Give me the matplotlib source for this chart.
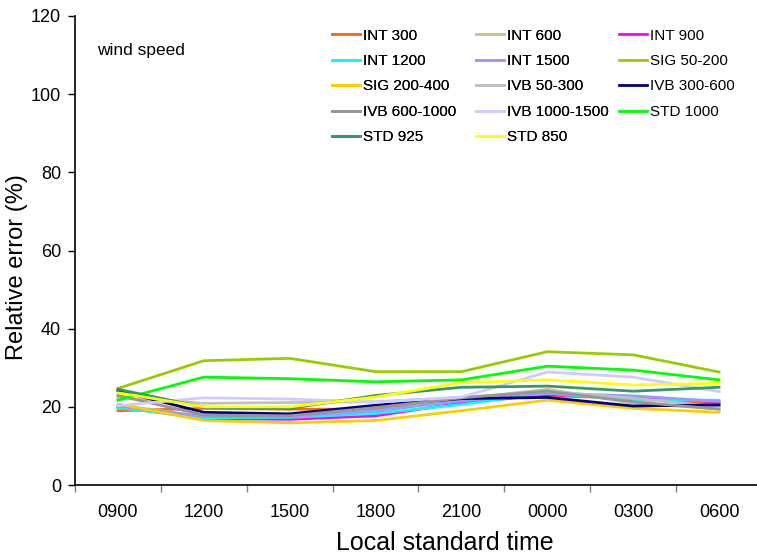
import matplotlib
matplotlib.use("Agg")
import matplotlib.pyplot as plt

plt.rcParams['font.family'] = ['Liberation Sans', 'DejaVu Sans']

times = ["0900", "1200", "1500", "1800", "2100", "0000", "0300", "0600"]

series_names = ["INT 300", "INT 600", "INT 900", "INT 1200", "INT 1500",
                "SIG 50-200", "SIG 200-400", "IVB 50-300", "IVB 300-600",
                "IVB 600-1000", "IVB 1000-1500", "STD 1000", "STD 925", "STD 850"]

int_300 = [19.0, 19.6, 19.4, 19.4, 21.8, 22.9, 22.1, 20.8]
int_600 = [20.5, 17.5, 17.3, 18.8, 22.0, 24.5, 20.9, 19.5]
int_900 = [20.0, 17.0, 16.8, 17.7, 21.0, 23.1, 22.4, 21.3]
int_1200 = [19.8, 17.2, 17.3, 18.3, 20.6, 23.5, 21.7, 21.7]
int_1500 = [20.2, 17.5, 17.5, 19.0, 21.5, 23.5, 22.8, 21.4]
sig_50_200 = [24.7, 31.8, 32.4, 29.0, 29.0, 34.1, 33.3, 28.9]
sig_200_400 = [20.7, 16.5, 15.9, 16.5, 19.0, 21.7, 19.6, 18.6]
ivb_50_300 = [22.3, 20.9, 21.1, 21.3, 22.4, 24.0, 22.2, 20.0]
ivb_300_600 = [24.1, 18.6, 18.2, 20.4, 22.1, 22.4, 20.2, 20.5]
ivb_600_1000 = [22.9, 17.9, 17.7, 19.8, 22.3, 24.0, 21.3, 19.4]
ivb_1000_1500 = [20.3, 22.3, 22.0, 21.2, 22.5, 28.9, 27.6, 23.9]
std_1000 = [21.7, 27.6, 27.2, 26.4, 26.9, 30.4, 29.4, 26.9]
std_925 = [24.5, 19.9, 19.6, 22.9, 25.0, 25.3, 24.0, 25.0]
std_850 = [23.6, 20.0, 20.0, 22.5, 26.2, 26.9, 25.6, 26.0]

all_values = [int_300, int_600, int_900, int_1200, int_1500, sig_50_200,
              sig_200_400, ivb_50_300, ivb_300_600, ivb_600_1000,
              ivb_1000_1500, std_1000, std_925, std_850]

colors = ["#FF6A13", "#CCC28A", "#FF00FF", "#00FFFF", "#9999FF", "#99CC00",
          "#FFCC00", "#C0C0C0", "#000080", "#969696", "#CCCCFF", "#00FF00",
          "#339966", "#FFFF00"]

fig = plt.figure(figsize=(7.57, 5.58), dpi=100)
ax = fig.add_axes([75 / 757, 1 - 485 / 558, 687 / 757, 469 / 558])

x = [i + 0.5 for i in range(len(times))]
handles = []
for name, vals, c in zip(series_names, all_values, colors):
    ln, = ax.plot(x, vals, color=c, lw=2.0, label=name, solid_joinstyle='miter')
    handles.append(ln)

ax.set_xlim(0, len(times))
ax.set_ylim(0, 120)
ax.set_yticks(range(0, 121, 20))
ax.set_xticks(range(0, len(times) + 1))
ax.set_xticklabels([])
ax.set_xticks(x, minor=True)
ax.set_xticklabels(times, minor=True)
ax.tick_params(axis='x', which='minor', length=0, pad=14, labelsize=13)
ax.tick_params(axis='x', which='major', length=5, width=1, direction='out', color='#808080')
ax.tick_params(axis='y', length=5, width=1, direction='out', pad=5, labelsize=13)

ax.spines['top'].set_visible(False)
ax.spines['right'].set_visible(False)
for s in ['left', 'bottom']:
    ax.spines[s].set_linewidth(1.2)

ax.set_xlabel("Local standard time", fontsize=18)
ax.xaxis.set_label_coords(0.539, -0.124)
ax.xaxis.label.set_va('center')
ax.set_ylabel("Relative error (%)", fontsize=17)
ax.yaxis.set_label_coords(-0.068, 0.465)

ax.text(0.032, 0.9275, "wind speed", transform=ax.transAxes, fontsize=12.5,
        ha='left', va='center')

# legend: row-major ordering across 3 columns
col_x = [332 / 757, 476 / 757, 619 / 757]
for c in range(3):
    idx = list(range(c, len(series_names), 3))
    hs = [handles[i] for i in idx]
    leg = fig.legend(hs, [series_names[i] for i in idx], loc='upper left',
                     bbox_to_anchor=(col_x[c], 1 - 28.5 / 558), frameon=False,
                     fontsize=11, handlelength=1.8, handletextpad=0.2,
                     labelspacing=0.75, borderpad=0, borderaxespad=0)
    if c < 2:
        fig.add_artist(leg)

fig.savefig("out.png", dpi=100)
